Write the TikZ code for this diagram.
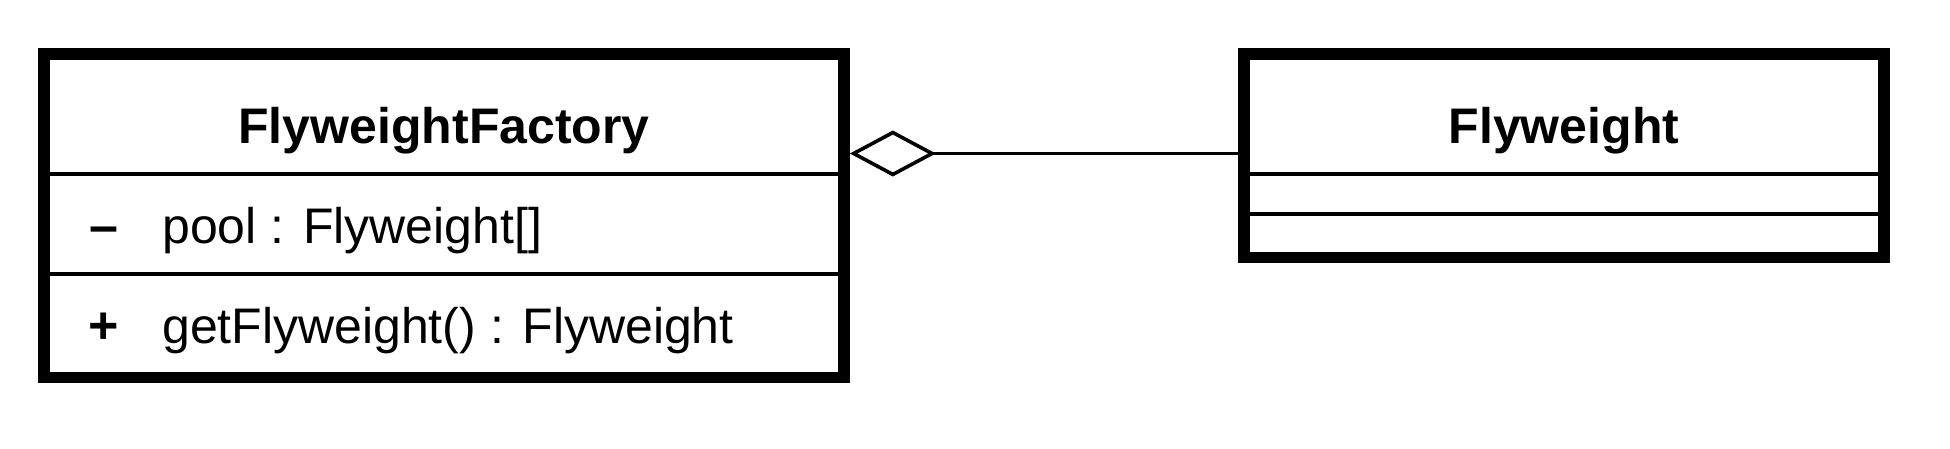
\documentclass[tikz,border=0pt]{standalone}
\usepackage{fontspec}
\setmainfont{Liberation Sans}
\usetikzlibrary{arrows.meta}
\tikzset{
  classbox/.style={draw=black, line width=11.7pt, fill=white, inner sep=0pt, outer sep=0.5\pgflinewidth},
  divider/.style={draw=black, line width=4.2pt},
  titletext/.style={anchor=base, inner sep=0pt, font=\fontsize{50pt}{60pt}\selectfont\bfseries},
  membertext/.style={anchor=base west, inner sep=0pt, font=\fontsize{50pt}{60pt}\selectfont},
  vistext/.style={anchor=base, inner sep=0pt, font=\fontsize{52pt}{60pt}\selectfont\bfseries},
  aggr/.style={draw=black, line width=3.6pt, -{Diamond[open, length=86pt, width=46pt, line width=3.6pt]}}
}
\begin{document}
\begin{tikzpicture}[x=1pt, y=-1pt]
\useasboundingbox (0,0) rectangle (1950,448);
% FlyweightFactory class
\node[classbox, minimum width=800pt, minimum height=323.5pt] (factory) at (444,215.75) {};
\draw[divider] (44,174) -- (844,174);
\draw[divider] (44,274) -- (844,274);
\node[titletext] (factorytitle) at (444,143) {FlyweightFactory};
\node[vistext] (minus) at (104,243) {–};
\node[membertext] (pool) at (162,243) {pool : Flyweight[]};
\node[vistext] (plus) at (104,343) {+};
\node[membertext] (getfw) at (162,343) {getFlyweight() : Flyweight};
% Flyweight class
\node[classbox, minimum width=640pt, minimum height=203.5pt] (fw) at (1564,155.75) {};
\draw[divider] (1244,174) -- (1884,174);
\draw[divider] (1244,213.7) -- (1884,213.7);
\node[titletext] (fwtitle) at (1564,143) {Flyweight};
% aggregation
\coordinate (dl) at (factory.east |- 0,153.5);
\draw[aggr] (fw.west |- dl) -- (dl);
\end{tikzpicture}
\end{document}
